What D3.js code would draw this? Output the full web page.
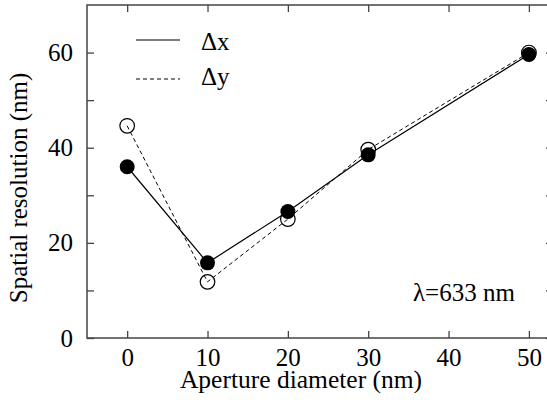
<!DOCTYPE html>
<html>
<head>
<meta charset="utf-8">
<script src="https://cdn.jsdelivr.net/npm/d3@7"></script>
</head>
<body style="margin:0; background:#fff">
<svg id="chart" width="547" height="400"></svg>
<script>
const apertures = [0, 10, 20, 30, 50];
const dxValues = [36, 15.8, 26.6, 38.5, 59.6];
const dyValues = [44.6, 11.8, 25, 39.6, 60];
const xTicks = [0, 10, 20, 30, 40, 50];
const yTicks = [0, 10, 20, 30, 40, 50, 60];
const yLabelled = [0, 20, 40, 60];

const FONT = 'Liberation Serif';
const margin = { top: 5, left: 87, right: -6, bottom: 62 };
const width = 547 - margin.left - margin.right;
const height = 400 - margin.top - margin.bottom;

const svg = d3.select('svg#chart');
const g = svg.append('g')
    .attr('transform', `translate(${margin.left},${margin.top})`);

const xScale = d3.scaleLinear().domain([-5, 53]).range([0, width]);
const yScale = d3.scaleLinear().domain([0, 70]).range([height, 0]);

// frame
g.append('rect')
    .attr('width', width).attr('height', height)
    .attr('fill', 'none').attr('stroke', '#444').attr('stroke-width', 1.5);

// ticks on all four sides, pointing inward
const tickLen = 7;
const styleTicks = a => a.attr('font-family', FONT).attr('font-size', 25)
    .selectAll('text').attr('font-family', FONT).attr('font-size', 25).attr('fill', '#000');

g.append('g').attr('transform', `translate(0,${height})`)
    .call(d3.axisBottom(xScale).tickValues(xTicks).tickSizeInner(-tickLen).tickSizeOuter(0).tickPadding(10))
    .call(a => a.select('.domain').remove())
    .call(styleTicks);
g.append('g')
    .call(d3.axisTop(xScale).tickValues(xTicks).tickSizeInner(-tickLen).tickSizeOuter(0).tickFormat(''))
    .call(a => a.select('.domain').remove());
g.append('g')
    .call(d3.axisLeft(yScale).tickValues(yTicks).tickSizeInner(-tickLen).tickSizeOuter(0).tickPadding(14)
        .tickFormat(d => yLabelled.includes(d) ? d : ''))
    .call(a => a.select('.domain').remove())
    .call(styleTicks);
g.append('g').attr('transform', `translate(${width},0)`)
    .call(d3.axisRight(yScale).tickValues(yTicks).tickSizeInner(-tickLen).tickSizeOuter(0).tickFormat(''))
    .call(a => a.select('.domain').remove());
g.selectAll('.tick line').attr('stroke', '#444').attr('stroke-width', 1.3);

// lines
const line = d3.line().x(d => xScale(d[0])).y(d => yScale(d[1]));
const dxData = apertures.map((a, i) => [a, dxValues[i]]);
const dyData = apertures.map((a, i) => [a, dyValues[i]]);

g.append('path').datum(dyData).attr('d', line)
    .attr('fill', 'none').attr('stroke', '#000').attr('stroke-width', 1).attr('stroke-dasharray', '4,3');
g.append('path').datum(dxData).attr('d', line)
    .attr('fill', 'none').attr('stroke', '#000').attr('stroke-width', 1.2);

g.selectAll('.open').data(dyData).enter().append('circle')
    .attr('cx', d => xScale(d[0])).attr('cy', d => yScale(d[1])).attr('r', 7.3)
    .attr('fill', 'none').attr('stroke', '#000').attr('stroke-width', 1.2);
g.selectAll('.filled').data(dxData).enter().append('circle')
    .attr('cx', d => xScale(d[0])).attr('cy', d => yScale(d[1])).attr('r', 7.5)
    .attr('fill', '#000');

// legend
const addText = (x, y, size, txt) => svg.append('text')
    .attr('x', x).attr('y', y).attr('font-family', FONT).attr('font-size', size).text(txt);

svg.append('line').attr('x1', 136).attr('x2', 180).attr('y1', 40).attr('y2', 40)
    .attr('stroke', '#000').attr('stroke-width', 1.2);
addText(201, 50, 25, 'Δx');
svg.append('line').attr('x1', 136).attr('x2', 180).attr('y1', 79).attr('y2', 79)
    .attr('stroke', '#000').attr('stroke-width', 1).attr('stroke-dasharray', '4,3');
addText(201, 85, 25, 'Δy');

addText(413, 301, 25, 'λ=633 nm');

// axis titles
addText(301, 388, 25.5, 'Aperture diameter (nm)').attr('text-anchor', 'middle');
svg.append('text').attr('transform', 'translate(27,188) rotate(-90)').attr('text-anchor', 'middle')
    .attr('font-family', FONT).attr('font-size', 25).text('Spatial resolution (nm)');
</script>
</body>
</html>
